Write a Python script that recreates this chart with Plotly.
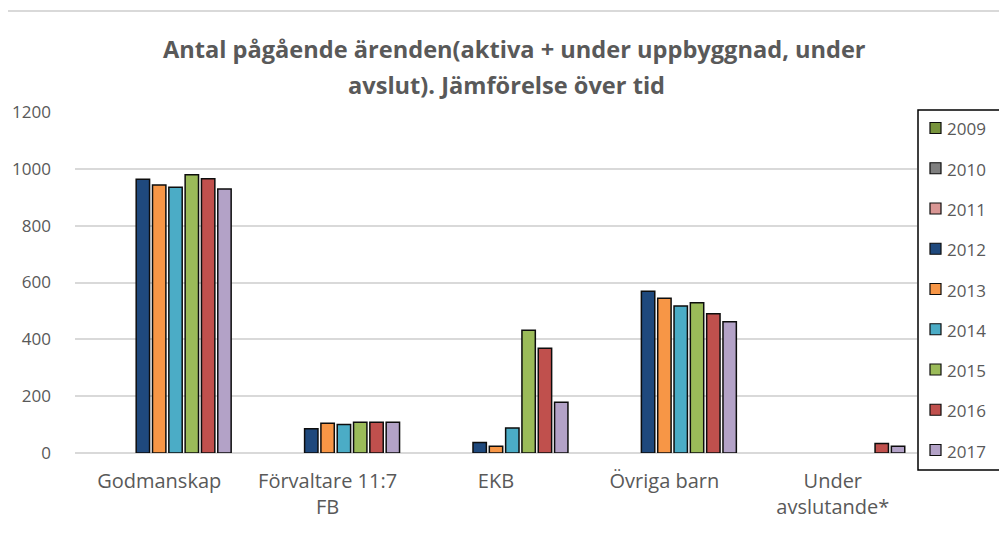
import plotly.graph_objects as go

categories = ["Godmanskap", "Förvaltare 11:7<br>FB", "EKB", "Övriga barn", "Under<br>avslutande*"]
years = ["2009", "2010", "2011", "2012", "2013", "2014", "2015", "2016", "2017"]
v2009 = [None, None, None, None, None]
v2010 = [None, None, None, None, None]
v2011 = [None, None, None, None, None]
v2012 = [963, 85, 37, 569, None]
v2013 = [943, 105, 24, 545, None]
v2014 = [935, 100, 88, 517, None]
v2015 = [979, 108, 432, 529, None]
v2016 = [965, 108, 369, 490, 33]
v2017 = [929, 108, 179, 462, 24]
series = [v2009, v2010, v2011, v2012, v2013, v2014, v2015, v2016, v2017]
colors = ["#77933C", "#7F7F7F", "#D99694", "#1F497D", "#F79646",
          "#4BACC6", "#9BBB59", "#C0504D", "#B3A2C7"]
y_ticks = [0, 200, 400, 600, 800, 1000, 1200]
title_lines = ["Antal pågående ärenden(aktiva + under uppbyggnad, under",
               "avslut). Jämförelse över tid"]

FONT = "Open Sans, sans-serif"
TXT = "#595959"
W, H = 1007, 534
OFF = 8  # page body margin offset
L, R, T, B = 75 - OFF, 917 - OFF, 112 - OFF, 453 - OFF


def xp(px):
    return (px - OFF - L) / (R - L)


def yp(py):
    return (B - (py - OFF)) / (B - T)


fig = go.Figure()
for yr, vals, col in zip(years, series, colors):
    fig.add_trace(go.Bar(
        name=yr, x=categories, y=vals,
        marker=dict(color=col, line=dict(color="#0d0d0d", width=1.5)),
        showlegend=False,
    ))

shapes = [
    dict(type="line", xref="paper", yref="paper",
         x0=xp(6), x1=xp(1007), y0=yp(11), y1=yp(11),
         line=dict(color="#d9d9d9", width=2)),
    dict(type="line", xref="paper", yref="paper",
         x0=xp(6.5), x1=xp(6.5), y0=yp(10), y1=yp(540),
         line=dict(color="#d9d9d9", width=2)),
    # legend box
    dict(type="rect", xref="paper", yref="paper",
         x0=xp(918), x1=xp(1000), y0=yp(110), y1=yp(470),
         fillcolor="white", line=dict(color="#000000", width=1.5), layer="above"),
]
annotations = []
for i, (yr, col) in enumerate(zip(years, colors)):
    cy = 128 + i * 40.25
    shapes.append(dict(type="rect", xref="paper", yref="paper",
                       x0=xp(930), x1=xp(941), y0=yp(cy - 5.5), y1=yp(cy + 5.5),
                       fillcolor=col, line=dict(color="#0d0d0d", width=1.2),
                       layer="above"))
    annotations.append(dict(xref="paper", yref="paper", x=xp(945), y=yp(cy + 1),
                            xanchor="left", yanchor="middle", showarrow=False,
                            text=yr, font=dict(family=FONT, size=17, color=TXT)))

annotations.append(dict(xref="paper", yref="paper", x=xp(515), y=yp(49),
                        xanchor="center", yanchor="middle", showarrow=False,
                        text="<b>" + title_lines[0] + "</b>",
                        font=dict(family=FONT, size=23.6, color=TXT)))
annotations.append(dict(xref="paper", yref="paper", x=xp(506), y=yp(85),
                        xanchor="center", yanchor="middle", showarrow=False,
                        text="<b>" + title_lines[1] + "</b>",
                        font=dict(family=FONT, size=23.6, color=TXT)))

fig.update_layout(
    width=W, height=H,
    margin=dict(l=L, r=W - R, t=T, b=H - B, autoexpand=False),
    paper_bgcolor="white", plot_bgcolor="white",
    barmode="group", bargap=0.128, bargroupgap=0.18,
    font=dict(family=FONT, color=TXT, size=17),
    showlegend=False,
    xaxis=dict(
        showgrid=False, showline=False, ticks="", zeroline=False,
        tickfont=dict(family=FONT, size=20, color=TXT),
        ticklabelstandoff=14,
    ),
    yaxis=dict(
        range=[0, 1200], tickvals=y_ticks, showgrid=True,
        gridcolor="#d9d9d9", gridwidth=1.5, zeroline=True,
        zerolinecolor="#d9d9d9", zerolinewidth=1.5,
        showline=False, ticks="",
        tickfont=dict(family=FONT, size=17, color=TXT),
        ticklabelstandoff=23,
    ),
    shapes=shapes,
    annotations=annotations,
)

fig.write_html("out.html")
